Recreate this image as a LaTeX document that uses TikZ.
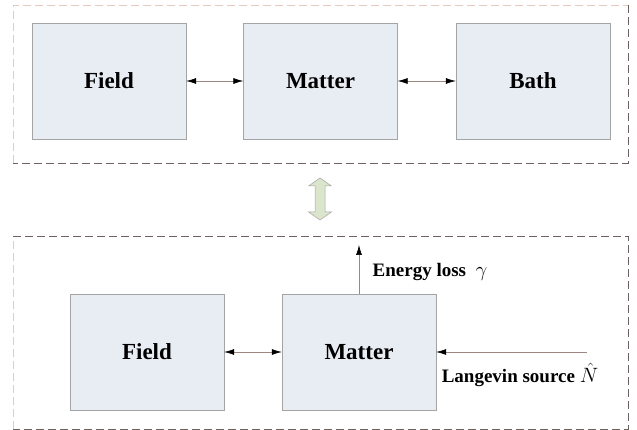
\documentclass[tikz,border=0pt]{standalone}
\usepackage{fontspec}
\setmainfont{Liberation Serif}
\usepackage[HTML]{xcolor}
\usetikzlibrary{positioning, arrows.meta}

\definecolor{boxfill}{HTML}{E8ECF3}
\definecolor{boxline}{HTML}{A4A4A4}
\definecolor{linkline}{HTML}{9C8880}
\definecolor{framedark}{HTML}{6C6260}
\definecolor{framelight}{HTML}{E6C9C0}
\definecolor{swapfill}{HTML}{DAE5CB}

\tikzset{
  tip/.style={Latex[black,length=10pt,width=6pt]},
  block/.style={draw=boxline, fill=boxfill, minimum width=154pt, minimum height=116pt,
    font=\fontsize{23}{27}\selectfont\bfseries},
  link/.style={draw=linkline, line width=0.6pt, {Latex[black,length=10pt,width=6pt]}-{Latex[black,length=10pt,width=6pt]}},
  flow/.style={draw=linkline, line width=0.6pt, -{Latex[black,length=10pt,width=6pt]}},
  note/.style={font=\fontsize{19}{22}\selectfont\bfseries},
  framedk/.style={draw=framedark, line width=0.9pt, dash pattern=on 8pt off 4pt},
  framelt/.style={draw=framelight, line width=0.8pt, dash pattern=on 8pt off 4pt},
}
\newcommand{\bigmath}[1]{{\fontsize{22}{26}\selectfont$#1$}}

\begin{document}
\begin{tikzpicture}[x=1pt, y=-1pt]
\useasboundingbox (0,0) rectangle (637,430);

% Upper frame: three coupled blocks
\draw[framelt] (13,163) -- (13,5) -- (628,5);
\draw[framedk] (628,5) -- (628,163) -- (13,163);
\node[block] (field) at (109,81) {Field};
\node[block] (matter) at (320.5,81) {Matter};
\node[block] (bath) at (533,81) {Bath};
\draw[link] (field) -- (matter);
\draw[link] (matter) -- (bath);

% equivalence arrow
\fill[swapfill, draw=boxline, line width=0.5pt]
  (320,178) -- (331.5,186) -- (325,186) -- (325,212) -- (331.5,212) -- (320,220)
  -- (308.5,212) -- (315,212) -- (315,186) -- (308.5,186) -- cycle;

% Lower frame: field, matter with loss and noise
\draw[framelt] (13,429) -- (13,236);
\draw[framedk] (13,236) -- (628,236) -- (628,429) -- (13,429);
\node[block] (field2) at (147,352) {Field};
\node[block] (matter2) at (359,352) {Matter};
\draw[link] (field2) -- (matter2);

\coordinate (lossEnd) at (359,245);
\draw[flow] (matter2.north) -- (lossEnd);
\node[note] (loss) at (430,272) {Energy loss\ \ \bigmath{\gamma}};

\coordinate (srcStart) at (587,352);
\draw[flow] (srcStart) -- (matter2.east);
\node[note] (source) at (520,375) {Langevin source\ \bigmath{\hat{N}}};
\end{tikzpicture}
\end{document}
